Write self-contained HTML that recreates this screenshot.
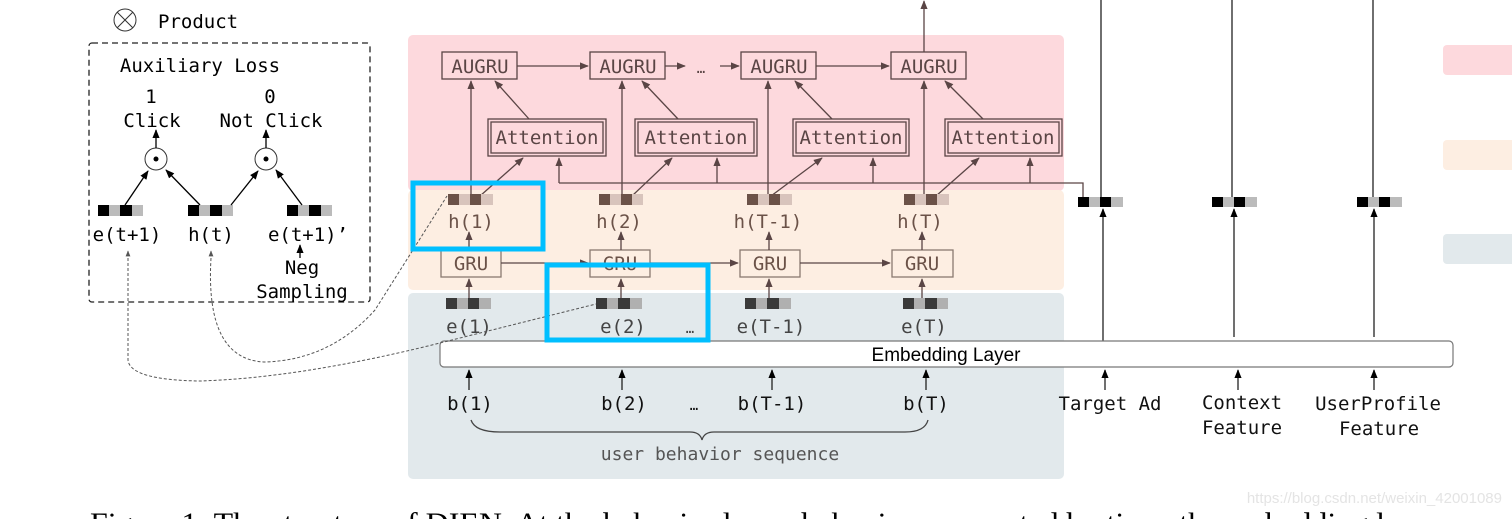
<!DOCTYPE html>
<html><head><meta charset="utf-8"><style>
html,body{margin:0;padding:0;background:#fff;}
svg{display:block;}
.m{font-family:"DejaVu Sans Mono","Liberation Mono",monospace;}
</style></head><body>
<svg width="1512" height="519" viewBox="0 0 1512 519" xmlns="http://www.w3.org/2000/svg">
<defs>
<marker id="a" viewBox="0 0 10 10" refX="9" refY="5" markerWidth="7" markerHeight="7" orient="auto-start-reverse"><path d="M0,1 L10,5 L0,9 z" fill="#5a4545"/></marker>
<marker id="k" viewBox="0 0 10 10" refX="9" refY="5" markerWidth="7" markerHeight="7" orient="auto-start-reverse"><path d="M0,1 L10,5 L0,9 z" fill="#000"/></marker>
<marker id="g" viewBox="0 0 10 10" refX="9" refY="5" markerWidth="6" markerHeight="6" orient="auto"><path d="M0,1 L10,5 L0,9 z" fill="#555"/></marker>
</defs>
<rect x="408" y="35" width="656" height="156" rx="5" fill="#fdd9dd"/>
<rect x="408" y="190" width="656" height="100" rx="5" fill="#fdeee2"/>
<rect x="408" y="293" width="656" height="186" rx="5" fill="#e2e9ec"/>
<rect x="1443" y="45" width="80" height="30" rx="4" fill="#fdd9dd"/>
<rect x="1443" y="140" width="80" height="30" rx="4" fill="#fdeee2"/>
<rect x="1443" y="234" width="80" height="30" rx="4" fill="#e2e9ec"/>

<g stroke="#5a4545" stroke-width="1.3" fill="none">
<rect x="442" y="52" width="75" height="27"/><rect x="590" y="52" width="75" height="27"/>
<rect x="741" y="52" width="75" height="27"/><rect x="891" y="52" width="75" height="27"/>
<rect x="488" y="119" width="118" height="37"/><rect x="491" y="122" width="112" height="31"/>
<rect x="635" y="119" width="122" height="37"/><rect x="638" y="122" width="116" height="31"/>
<rect x="793" y="119" width="116" height="37"/><rect x="796" y="122" width="110" height="31"/>
<rect x="945" y="119" width="117" height="37"/><rect x="948" y="122" width="111" height="31"/>
<rect x="441" y="250" width="60" height="27" stroke="#8a7a70"/><rect x="590" y="250" width="60" height="27" stroke="#8a7a70"/>
<rect x="740" y="250" width="60" height="27" stroke="#8a7a70"/><rect x="892" y="250" width="61" height="27" stroke="#8a7a70"/>
<line x1="517" y1="66" x2="588" y2="66" marker-end="url(#a)"/>
<line x1="665" y1="66" x2="685" y2="66" marker-end="url(#a)"/>
<line x1="720" y1="66" x2="739" y2="66" marker-end="url(#a)"/>
<line x1="816" y1="66" x2="889" y2="66" marker-end="url(#a)"/>
<line x1="924" y1="52" x2="924" y2="1" marker-end="url(#a)"/>
<line x1="471" y1="200" x2="471" y2="81" marker-end="url(#a)"/>
<line x1="622" y1="200" x2="622" y2="81" marker-end="url(#a)"/>
<line x1="768" y1="200" x2="768" y2="81" marker-end="url(#a)"/>
<line x1="924" y1="200" x2="924" y2="81" marker-end="url(#a)"/>
<line x1="529" y1="119" x2="495" y2="81" marker-end="url(#a)"/>
<line x1="678" y1="119" x2="642" y2="81" marker-end="url(#a)"/>
<line x1="832" y1="119" x2="795" y2="81" marker-end="url(#a)"/>
<line x1="983" y1="119" x2="945" y2="81" marker-end="url(#a)"/>
<path d="M559,183 H1083 V197"/>
<line x1="559" y1="183" x2="559" y2="158" marker-end="url(#a)"/>
<line x1="717" y1="183" x2="717" y2="158" marker-end="url(#a)"/>
<line x1="873" y1="183" x2="873" y2="158" marker-end="url(#a)"/>
<line x1="1030" y1="183" x2="1030" y2="158" marker-end="url(#a)"/>
<line x1="480" y1="196" x2="523" y2="158" marker-end="url(#a)"/>
<line x1="632" y1="196" x2="672" y2="158" marker-end="url(#a)"/>
<line x1="771" y1="196" x2="822" y2="158" marker-end="url(#a)"/>
<line x1="936" y1="196" x2="979" y2="158" marker-end="url(#a)"/>
<line x1="501" y1="263" x2="588" y2="263" marker-end="url(#a)"/>
<line x1="650" y1="263" x2="738" y2="263" marker-end="url(#a)"/>
<line x1="800" y1="263" x2="890" y2="263" marker-end="url(#a)"/>
<line x1="469" y1="250" x2="469" y2="232" marker-end="url(#a)"/>
<line x1="621" y1="250" x2="621" y2="232" marker-end="url(#a)"/>
<line x1="769" y1="250" x2="769" y2="232" marker-end="url(#a)"/>
<line x1="922" y1="250" x2="922" y2="232" marker-end="url(#a)"/>
<line x1="469" y1="298" x2="469" y2="279" marker-end="url(#a)"/>
<line x1="621" y1="298" x2="621" y2="279" marker-end="url(#a)"/>
<line x1="769" y1="298" x2="769" y2="279" marker-end="url(#a)"/>
<line x1="922" y1="298" x2="922" y2="279" marker-end="url(#a)"/>
</g>
<g>
<rect x="448" y="194" width="11" height="11" fill="#6b5248"/><rect x="459" y="194" width="11" height="11" fill="#d8c4bc"/><rect x="470" y="194" width="11" height="11" fill="#6b5248"/><rect x="481" y="194" width="12" height="11" fill="#d8c4bc"/>
<rect x="599" y="194" width="11" height="11" fill="#6b5248"/><rect x="610" y="194" width="11" height="11" fill="#d8c4bc"/><rect x="621" y="194" width="11" height="11" fill="#6b5248"/><rect x="632" y="194" width="11" height="11" fill="#d8c4bc"/>
<rect x="747" y="194" width="11" height="11" fill="#6b5248"/><rect x="758" y="194" width="11" height="11" fill="#d8c4bc"/><rect x="769" y="194" width="11" height="11" fill="#6b5248"/><rect x="780" y="194" width="12" height="11" fill="#d8c4bc"/>
<rect x="904" y="194" width="11" height="11" fill="#6b5248"/><rect x="915" y="194" width="11" height="11" fill="#d8c4bc"/><rect x="926" y="194" width="11" height="11" fill="#6b5248"/><rect x="937" y="194" width="12" height="11" fill="#d8c4bc"/>
</g>
<g>
<rect x="446" y="298" width="11" height="11" fill="#3a3a3a"/><rect x="457" y="298" width="11" height="11" fill="#b0b0b0"/><rect x="468" y="298" width="11" height="11" fill="#3a3a3a"/><rect x="479" y="298" width="12" height="11" fill="#b0b0b0"/>
<rect x="596" y="298" width="11" height="11" fill="#3a3a3a"/><rect x="607" y="298" width="11" height="11" fill="#b0b0b0"/><rect x="618" y="298" width="12" height="11" fill="#3a3a3a"/><rect x="630" y="298" width="12" height="11" fill="#b0b0b0"/>
<rect x="745" y="298" width="11" height="11" fill="#3a3a3a"/><rect x="756" y="298" width="11" height="11" fill="#b0b0b0"/><rect x="767" y="298" width="12" height="11" fill="#3a3a3a"/><rect x="779" y="298" width="12" height="11" fill="#b0b0b0"/>
<rect x="903" y="298" width="11" height="11" fill="#3a3a3a"/><rect x="914" y="298" width="11" height="11" fill="#b0b0b0"/><rect x="925" y="298" width="12" height="11" fill="#3a3a3a"/><rect x="937" y="298" width="11" height="11" fill="#b0b0b0"/>
</g>
<g>
<rect x="1078" y="197" width="11" height="10" fill="#000"/><rect x="1089" y="197" width="11" height="10" fill="#bbb"/><rect x="1100" y="197" width="11" height="10" fill="#000"/><rect x="1111" y="197" width="12" height="10" fill="#bbb"/>
<rect x="1212" y="197" width="11" height="10" fill="#000"/><rect x="1223" y="197" width="11" height="10" fill="#bbb"/><rect x="1234" y="197" width="11" height="10" fill="#000"/><rect x="1245" y="197" width="12" height="10" fill="#bbb"/>
<rect x="1357" y="197" width="11" height="10" fill="#000"/><rect x="1368" y="197" width="11" height="10" fill="#bbb"/><rect x="1379" y="197" width="11" height="10" fill="#000"/><rect x="1390" y="197" width="12" height="10" fill="#bbb"/>
</g>
<g stroke="#222" stroke-width="1.3" fill="none">
<line x1="1101" y1="0" x2="1101" y2="197"/>
<line x1="1232" y1="0" x2="1232" y2="197"/>
<line x1="1373" y1="0" x2="1373" y2="197"/>
<line x1="1103" y1="341" x2="1103" y2="209" marker-end="url(#k)"/>
<line x1="1234" y1="337" x2="1234" y2="209" marker-end="url(#k)"/>
<line x1="1374" y1="337" x2="1374" y2="209" marker-end="url(#k)"/>
<line x1="1105" y1="390" x2="1105" y2="370" marker-end="url(#k)"/>
<line x1="1238" y1="390" x2="1238" y2="370" marker-end="url(#k)"/>
<line x1="1374" y1="390" x2="1374" y2="370" marker-end="url(#k)"/>
<line x1="469" y1="390" x2="469" y2="370" marker-end="url(#k)"/>
<line x1="622" y1="390" x2="622" y2="370" marker-end="url(#k)"/>
<line x1="772" y1="390" x2="772" y2="370" marker-end="url(#k)"/>
<line x1="926" y1="390" x2="926" y2="370" marker-end="url(#k)"/>
<path d="M471,420 Q475,432 500,432 H690 Q700,432 702,440 Q704,432 714,432 H905 Q925,432 928,420" stroke="#444"/>
</g>
<rect x="440" y="341" width="1013" height="26" rx="4" fill="#fff" stroke="#777" stroke-width="1.2"/>
<text x="946" y="361" font-family="Liberation Sans, sans-serif" font-size="19" text-anchor="middle" fill="#000">Embedding Layer</text>

<g class="m" font-size="19" fill="#5a4545" text-anchor="middle">
<text x="480" y="73">AUGRU</text><text x="628" y="73">AUGRU</text><text x="779" y="73">AUGRU</text><text x="929" y="73">AUGRU</text>
<text x="701" y="73" font-size="14">…</text>
<text x="547" y="144">Attention</text><text x="696" y="144">Attention</text><text x="851" y="144">Attention</text><text x="1003" y="144">Attention</text>
<text x="471" y="270" fill="#6b5248">GRU</text><text x="620" y="270" fill="#6b5248">GRU</text><text x="770" y="270" fill="#6b5248">GRU</text><text x="922" y="270" fill="#6b5248">GRU</text>
<text x="471" y="228" fill="#6b5248">h(1)</text><text x="619" y="228" fill="#6b5248">h(2)</text><text x="768" y="228" fill="#6b5248">h(T-1)</text><text x="920" y="228" fill="#6b5248">h(T)</text>
</g>
<g class="m" font-size="19" fill="#444" text-anchor="middle">
<text x="469" y="333">e(1)</text><text x="623" y="333">e(2)</text><text x="690" y="333" font-size="14">…</text><text x="771" y="333">e(T-1)</text><text x="924" y="333">e(T)</text>
</g>
<g class="m" font-size="19" fill="#111" text-anchor="middle">
<text x="470" y="410">b(1)</text><text x="624" y="410">b(2)</text><text x="694" y="410" font-size="14">…</text><text x="772" y="410">b(T-1)</text><text x="926" y="410">b(T)</text>
<text x="1110" y="410">Target Ad</text>
<text x="1242" y="409">Context</text><text x="1242" y="434">Feature</text>
<text x="1378" y="410">UserProfile</text><text x="1379" y="435">Feature</text>
</g>
<text class="m" x="720" y="460" font-size="18" fill="#555" text-anchor="middle">user behavior sequence</text>

<circle cx="125" cy="20" r="11" fill="none" stroke="#333" stroke-width="1"/>
<path d="M117,12 L133,28 M133,12 L117,28" stroke="#333" stroke-width="1"/>
<text class="m" x="158" y="28" font-size="19" fill="#000">Product</text>
<rect x="89" y="43" width="281" height="259" rx="3" fill="none" stroke="#222" stroke-width="1.3" stroke-dasharray="6,4"/>
<g class="m" font-size="19" fill="#000" text-anchor="middle">
<text x="200" y="72">Auxiliary Loss</text>
<text x="151" y="103">1</text><text x="270" y="103">0</text>
<text x="152" y="127">Click</text><text x="271" y="127">Not Click</text>
<text x="127" y="241">e(t+1)</text><text x="211" y="241">h(t)</text><text x="308" y="241">e(t+1)’</text>
<text x="302" y="274">Neg</text><text x="302" y="298">Sampling</text>
</g>
<circle cx="156" cy="159" r="11" fill="#fff" stroke="#333" stroke-width="1"/><circle cx="156" cy="159" r="2.5" fill="#000"/>
<circle cx="266" cy="159" r="11" fill="#fff" stroke="#333" stroke-width="1"/><circle cx="266" cy="159" r="2.5" fill="#000"/>
<g>
<rect x="98" y="205" width="11" height="11" fill="#000"/><rect x="109" y="205" width="11" height="11" fill="#bbb"/><rect x="120" y="205" width="12" height="11" fill="#000"/><rect x="132" y="205" width="11" height="11" fill="#bbb"/>
<rect x="188" y="205" width="11" height="11" fill="#000"/><rect x="199" y="205" width="11" height="11" fill="#bbb"/><rect x="210" y="205" width="12" height="11" fill="#000"/><rect x="222" y="205" width="11" height="11" fill="#bbb"/>
<rect x="287" y="205" width="11" height="11" fill="#000"/><rect x="298" y="205" width="11" height="11" fill="#bbb"/><rect x="309" y="205" width="12" height="11" fill="#000"/><rect x="321" y="205" width="11" height="11" fill="#bbb"/>
</g>
<g stroke="#000" stroke-width="1.3" fill="none">
<line x1="156" y1="148" x2="156" y2="130" marker-end="url(#k)"/>
<line x1="266" y1="148" x2="266" y2="130" marker-end="url(#k)"/>
<line x1="125" y1="205" x2="148" y2="171" marker-end="url(#k)"/>
<line x1="200" y1="205" x2="166" y2="170" marker-end="url(#k)"/>
<line x1="231" y1="205" x2="258" y2="171" marker-end="url(#k)"/>
<line x1="302" y1="205" x2="276" y2="170" marker-end="url(#k)"/>
<line x1="300" y1="258" x2="300" y2="245" marker-end="url(#k)"/>
</g>
<g stroke="#555" stroke-width="1" fill="none" stroke-dasharray="3,2">
<path d="M128,258 V360 Q130,380 200,381 Q300,378 440,343 L596,304"/>
<path d="M211,258 Q205,360 265,362 Q330,360 375,310 L447,196"/>
</g>
<line x1="128" y1="256" x2="128" y2="251" stroke="#555" marker-end="url(#g)"/>
<line x1="211" y1="256" x2="211" y2="251" stroke="#555" marker-end="url(#g)"/>
<rect x="413" y="183" width="130" height="66" fill="none" stroke="#00bfff" stroke-width="5"/>
<rect x="547" y="265" width="161" height="75" fill="none" stroke="#00bfff" stroke-width="5"/>
<text x="1502" y="503" font-family="Liberation Sans, sans-serif" font-size="15" fill="#e4e4e4" text-anchor="end">https://blog.csdn.net/weixin_42001089</text>
<text x="90" y="533" font-family="Liberation Serif, serif" font-size="30" fill="#000" textLength="1350" lengthAdjust="spacingAndGlyphs">Figure 1: The structure of DIEN. At the behavior layer, behaviors are sorted by time, the embedding layer</text>
</svg>
</body></html>
